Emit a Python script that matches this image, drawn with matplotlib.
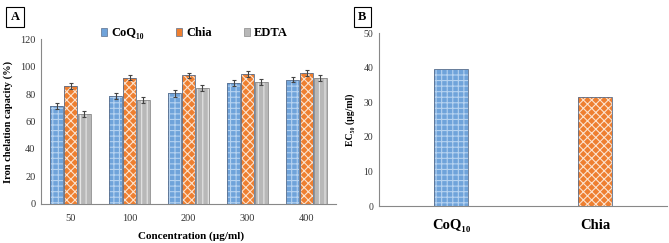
import numpy as np
import matplotlib
matplotlib.use("Agg")
import matplotlib.pyplot as plt
from matplotlib.patches import Patch

plt.rcParams['font.family'] = ['Liberation Serif', 'DejaVu Serif']
plt.rcParams['hatch.linewidth'] = 0.8

# panel A data
concs = ["50", "100", "200", "300", "400"]
coq10 = [71, 78.5, 80.5, 88, 90.5]
chia = [86, 92, 93.5, 94.5, 95.5]
edta = [65.5, 75.5, 84.5, 89, 91.5]
coq10_err = [2.2, 2, 2.5, 2, 2]
chia_err = [2, 1.8, 2, 2, 2.2]
edta_err = [2.2, 2.2, 2, 2.2, 2.2]

# panel B data
b_names = ["CoQ₁₀", "Chia"]
ec50 = [39.5, 31.5]

blue = "#6fa3da"
blue_h = "#b5d2f0"
orange = "#ee7f30"
orange_h = "#fbe3cf"
gray = "#b8b8b8"
gray_h = "#e6e6e6"


def hbar(ax, x, h, w, col, hcol, hatch, err=None, edge="#5b6f8c"):
    ax.bar(x, h, w, color=col, edgecolor="none", zorder=2)
    ax.bar(x, h, w, color="none", edgecolor=hcol, hatch=hatch, linewidth=0, zorder=3)
    ax.bar(x, h, w, color="none", edgecolor=edge, linewidth=0.6, zorder=4)
    if err is not None:
        ax.errorbar(x, h, yerr=err, fmt="none", ecolor="#444444", elinewidth=0.8,
                    capsize=1.5, capthick=0.8, zorder=5)


fig = plt.figure(figsize=(6.69, 2.43), dpi=100)

# ---- panel A
axA = fig.add_axes([0.0613, 0.1605, 0.441, 0.679])
x = np.arange(len(concs))
w = 0.225
hbar(axA, x - w - 0.01, coq10, w, blue, blue_h, "+++", coq10_err)
hbar(axA, x, chia, w, orange, orange_h, "xxxx", chia_err)
hbar(axA, x + w + 0.01, edta, w, gray, gray_h, "|||", edta_err, edge="#8a8a8a")
axA.set_xlim(-0.5, 4.5)
axA.set_ylim(0, 120)
axA.set_yticks(range(0, 121, 20))
axA.set_xticks(x)
axA.set_xticklabels(concs)
axA.tick_params(length=0, labelsize=7.5, colors="#333333", pad=4)
axA.tick_params(axis="x", pad=7)
for s in ["top", "right"]:
    axA.spines[s].set_visible(False)
for s in ["left", "bottom"]:
    axA.spines[s].set_color("#888888")
    axA.spines[s].set_linewidth(0.8)
axA.set_ylabel("Iron chelation capacity (%)", fontsize=7.5, fontweight="bold", labelpad=5)
fig.text(0.285, 0.01, "Concentration (µg/ml)", fontsize=8, fontweight="bold", ha="center", va="bottom")

# legend
handles = [Patch(facecolor=blue, edgecolor="#5b6f8c", linewidth=0.5),
           Patch(facecolor=orange, edgecolor="#5b6f8c", linewidth=0.5),
           Patch(facecolor=gray, edgecolor="#8a8a8a", linewidth=0.5)]
axA.legend(handles, ["CoQ₁₀", "Chia", "EDTA"], loc="lower center", bbox_to_anchor=(0.52, 0.93),
           ncol=3, frameon=False, prop={"weight": "bold", "size": 9},
           handlelength=0.5, handleheight=0.6, handletextpad=0.3, columnspacing=2.6)

fig.text(0.0225, 0.93, "A", fontsize=9, fontweight="bold", ha="center", va="center",
         bbox=dict(boxstyle="square,pad=0.35", facecolor="white", edgecolor="black", linewidth=0.8))

# ---- panel B
axB = fig.add_axes([0.5665, 0.152, 0.4305, 0.712])
xb = np.arange(len(b_names))
hbar(axB, xb[0], ec50[0], 0.235, blue, blue_h, "+++")
hbar(axB, xb[1], ec50[1], 0.235, orange, orange_h, "xxxx")
axB.set_xlim(-0.5, 1.5)
axB.set_ylim(0, 50)
axB.set_yticks(range(0, 51, 10))
axB.set_xticks(xb)
axB.set_xticklabels(b_names, fontsize=10.5, fontweight="bold")
axB.tick_params(axis="y", length=0, labelsize=7, colors="#333333", pad=4)
axB.tick_params(axis="x", length=0, pad=9)
for s in ["top", "right"]:
    axB.spines[s].set_visible(False)
for s in ["left", "bottom"]:
    axB.spines[s].set_color("#888888")
    axB.spines[s].set_linewidth(0.8)
axB.set_ylabel("EC₅₀ (µg/ml)", fontsize=7, fontweight="bold", labelpad=6)

fig.text(0.5415, 0.93, "B", fontsize=9, fontweight="bold", ha="center", va="center",
         bbox=dict(boxstyle="square,pad=0.35", facecolor="white", edgecolor="black", linewidth=0.8))

fig.savefig("out.png", dpi=100)
